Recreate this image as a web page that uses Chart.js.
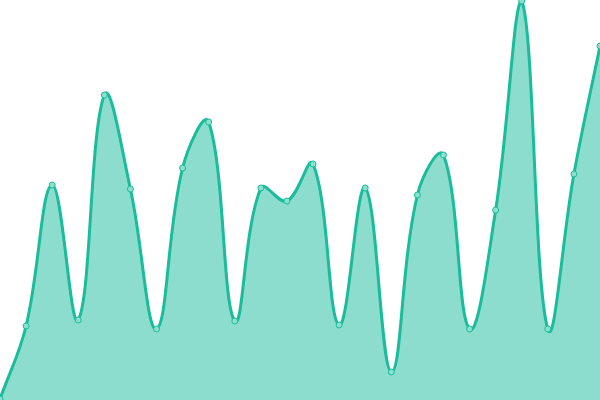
<!DOCTYPE html>
<html>
<head>
<meta charset="utf-8">
<script src="https://cdn.jsdelivr.net/npm/chart.js@4"></script>
<style>
html,body{margin:0;padding:0;background:#fff;}
#wrap{width:600px;height:400px;}
</style>
</head>
<body>
<div id="wrap"><canvas id="c"></canvas></div>
<script>
const labels = ["1","2","3","4","5","6","7","8","9","10","11","12","13","14","15","16","17","18","19","20","21","22","23","24"];
const values = [1, 74, 215, 80, 305, 211, 71, 232, 278, 79, 212, 199, 236, 75, 212, 28, 205, 245, 71, 190, 399, 71, 226, 354];
const yMin = 0;
const yMax = 400;

new Chart(document.getElementById('c'), {
  type: 'line',
  data: {
    labels: labels,
    datasets: [{
      data: values,
      borderColor: '#1abc9c',
      backgroundColor: 'rgba(26,188,156,0.5)',
      borderWidth: 3,
      fill: true,
      tension: 0.4,
      pointRadius: 3,
      pointBorderWidth: 1,
      pointBackgroundColor: 'rgba(140,224,206,1)',
      pointBorderColor: '#1abc9c'
    }]
  },
  options: {
    responsive: true,
    maintainAspectRatio: false,
    animation: false,
    layout: { padding: 0, autoPadding: false },
    plugins: { legend: { display: false }, tooltip: { enabled: false } },
    scales: {
      x: { display: false, offset: false },
      y: { display: false, min: yMin, max: yMax }
    }
  }
});
</script>
</body>
</html>
